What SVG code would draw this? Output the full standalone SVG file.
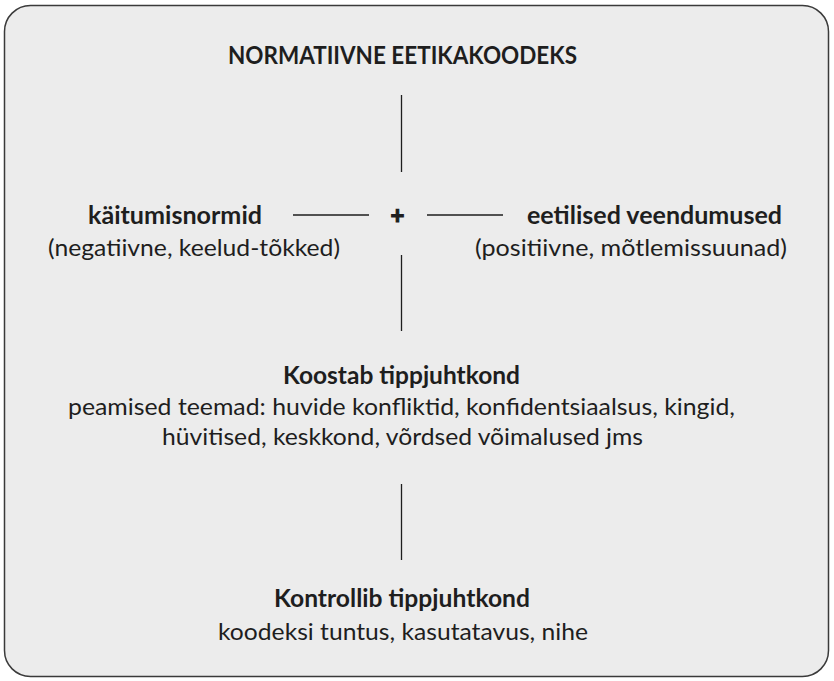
<svg xmlns="http://www.w3.org/2000/svg" width="834" height="681" viewBox="0 0 834 681">
<style>
.t{font-family:Lato,"Carlito","Open Sans","DejaVu Sans",sans-serif;font-size:24px;fill:#1e1e1e;text-anchor:middle}
.b{font-weight:bold}
.c{stroke:#1e1e1e;stroke-width:1.3;fill:none}
</style>
<rect id="frame" x="4.5" y="5.5" width="824" height="671" rx="26" ry="26" fill="#ececec" stroke="#3a3a3a" stroke-width="1.5"/>
<g id="connectors">
<line class="c" x1="401.5" y1="95" x2="401.5" y2="172"/>
<line class="c" x1="293" y1="215" x2="369" y2="215"/>
<line class="c" x1="427" y1="215" x2="503" y2="215"/>
<line class="c" x1="401.5" y1="255" x2="401.5" y2="331"/>
<line class="c" x1="401.5" y1="484" x2="401.5" y2="560"/>
</g>
<g id="title">
<text class="t b" x="402.5" y="64" textLength="349" lengthAdjust="spacingAndGlyphs">NORMATIIVNE EETIKAKOODEKS</text>
</g>
<g id="plus">
<text class="t b" x="397.5" y="224" font-size="28" stroke="#1e1e1e" stroke-width="1.2">+</text>
</g>
<g id="kaitumisnormid">
<text class="t b" x="175" y="224" textLength="174" lengthAdjust="spacingAndGlyphs">käitumisnormid</text>
<text class="t" x="194" y="256" textLength="292" lengthAdjust="spacingAndGlyphs">(negatiivne, keelud-tõkked)</text>
</g>
<g id="eetilised">
<text class="t b" x="654.5" y="224" textLength="255" lengthAdjust="spacingAndGlyphs">eetilised veendumused</text>
<text class="t" x="631" y="256" textLength="312" lengthAdjust="spacingAndGlyphs">(positiivne, mõtlemissuunad)</text>
</g>
<g id="koostab">
<text class="t b" x="401.5" y="384" textLength="237" lengthAdjust="spacingAndGlyphs">Koostab tippjuhtkond</text>
<text class="t" x="401.5" y="415" textLength="667" lengthAdjust="spacingAndGlyphs">peamised teemad: huvide konfliktid, konfidentsiaalsus, kingid,</text>
<text class="t" x="402.5" y="445" textLength="481" lengthAdjust="spacingAndGlyphs">hüvitised, keskkond, võrdsed võimalused jms</text>
</g>
<g id="kontrollib">
<text class="t b" x="402" y="607" textLength="256" lengthAdjust="spacingAndGlyphs">Kontrollib tippjuhtkond</text>
<text class="t" x="403" y="640" textLength="370" lengthAdjust="spacingAndGlyphs">koodeksi tuntus, kasutatavus, nihe</text>
</g>
</svg>
